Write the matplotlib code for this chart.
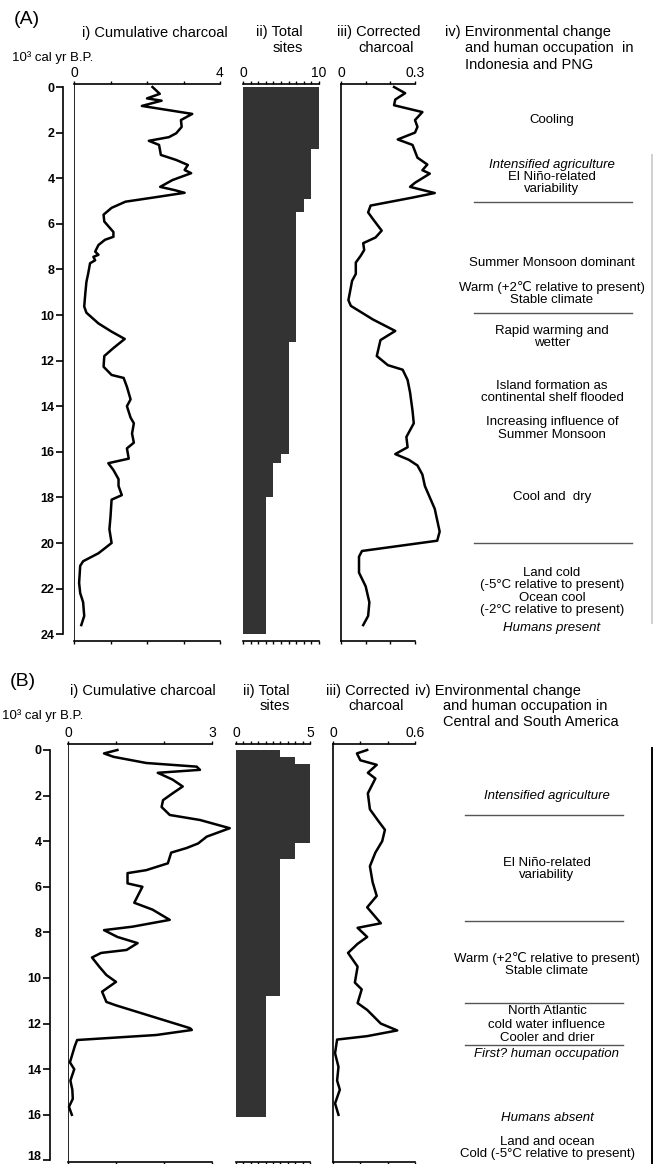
import numpy as np
import matplotlib.pyplot as plt

plt.rcParams['font.family'] = ['Liberation Sans', 'DejaVu Sans']

# ---------------- data ----------------
# (A) Indonesia and PNG, ages in 10^3 cal yr B.P.
a_char_age = [0, 0.3, 0.5, 0.6, 0.83, 1.18, 1.45, 1.75, 2.03, 2.2, 2.36, 2.54, 2.98,
              3.2, 3.42, 3.64, 3.78, 4.08, 4.38, 4.52, 4.64, 4.83, 5.03, 5.3, 5.6,
              5.9, 6.36, 6.57, 6.7, 6.93, 7.22, 7.36, 7.45, 7.6, 7.73, 8.17, 8.55,
              9.05, 9.63, 9.9, 10.37, 10.73, 11.05, 11.45, 11.8, 12.27, 12.63, 12.76,
              13.15, 13.7, 14.0, 14.5, 14.75, 15.2, 15.6, 15.85, 16.3, 16.5, 16.8,
              17.2, 17.5, 17.9, 18.1, 18.85, 19.4, 20.0, 20.45, 20.8, 21.0, 21.75,
              22.2, 22.6, 23.2, 23.6]
a_char = [2.15, 2.35, 2.0, 2.4, 1.86, 3.24, 2.93, 2.95, 2.8, 2.6, 2.05, 2.33, 2.38,
          2.8, 3.12, 3.03, 3.21, 2.7, 2.36, 2.75, 3.03, 2.25, 1.41, 1.03, 0.81,
          0.83, 1.08, 1.08, 0.85, 0.67, 0.58, 0.67, 0.53, 0.58, 0.44, 0.39, 0.34,
          0.31, 0.28, 0.34, 0.67, 1.03, 1.39, 1.08, 0.83, 0.81, 1.03, 1.36,
          1.45, 1.55, 1.45, 1.55, 1.64, 1.59, 1.64, 1.45, 1.5, 0.94, 1.08,
          1.22, 1.22, 1.31, 1.03, 1.0, 0.97, 1.03, 0.67, 0.25, 0.17, 0.14,
          0.17, 0.25, 0.28, 0.2]

a_sites_edges = [0, 2.7, 4.9, 5.5, 11.2, 16.1, 16.5, 18.0, 24]
a_sites = [10, 9, 8, 7, 6, 5, 4, 3]

a_corr_age = [0, 0.27, 0.55, 0.8, 1.1, 1.45, 1.75, 2.0, 2.3, 2.54, 3.1, 3.4, 3.65,
              3.8, 4.2, 4.38, 4.65, 4.85, 5.2, 5.5, 5.8, 6.3, 6.6, 6.85, 7.15, 7.4,
              7.7, 8.2, 8.5, 9.35, 9.6, 10.2, 10.7, 11.1, 11.8, 12.2, 12.4, 12.85,
              13.4, 14.2, 14.75, 15.35, 15.8, 16.1, 16.35, 16.6, 17.0, 17.5, 18.0,
              18.5, 19.0, 19.5, 19.9, 20.35, 20.6, 21.3, 21.9, 22.6, 23.2, 23.6]
a_corr = [0.215, 0.26, 0.22, 0.215, 0.33, 0.30, 0.31, 0.30, 0.23, 0.29, 0.31, 0.35,
          0.33, 0.36, 0.30, 0.28, 0.38, 0.29, 0.12, 0.11, 0.13, 0.165, 0.14, 0.09,
          0.094, 0.08, 0.06, 0.06, 0.045, 0.03, 0.04, 0.13, 0.22, 0.16, 0.145,
          0.19, 0.25, 0.27, 0.28, 0.29, 0.295, 0.265, 0.27, 0.22, 0.275, 0.31,
          0.33, 0.34, 0.36, 0.38, 0.39, 0.40, 0.39, 0.085, 0.073, 0.073, 0.10,
          0.115, 0.11, 0.09]

a_notes = ['Cooling', 'Intensified agriculture', 'El Niño-related', 'variability',
           'Summer Monsoon dominant', 'Warm (+2℃ relative to present)',
           'Stable climate', 'Rapid warming and', 'wetter', 'Island formation as',
           'continental shelf flooded', 'Increasing influence of', 'Summer Monsoon',
           'Cool and  dry', 'Land cold', '(-5°C relative to present)', 'Ocean cool',
           '(-2°C relative to present)', 'Humans present']
a_note_age = [1.45, 3.4, 3.95, 4.47, 7.7, 8.8, 9.35, 10.7, 11.25, 13.1, 13.65,
              14.7, 15.25, 18.0, 21.3, 21.85, 22.4, 22.95, 23.75]
a_note_italic = [False, True, False, False, False, False, False, False, False,
                 False, False, False, False, False, False, False, False, False, True]
a_bounds = [5.04, 9.9, 20.0]

# (B) Central and South America
b_char_age = [0, 0.15, 0.3, 0.57, 0.73, 0.87, 1.0, 1.3, 1.6, 1.9, 2.2, 2.5, 2.85,
              3.07, 3.43, 3.8, 4.1, 4.3, 4.5, 4.97, 5.27, 5.4, 5.85, 6.0, 6.7, 7.0,
              7.45, 7.75, 7.9, 8.2, 8.47, 8.77, 8.9, 9.1, 9.5, 9.87, 10.17, 10.6,
              11.05, 11.2, 12.2, 12.28, 12.5, 12.72, 13.0, 13.7, 14.0, 14.5, 14.9,
              15.3, 15.65, 16.0]
b_char = [1.03, 0.75, 0.95, 1.63, 2.68, 2.75, 1.87, 2.18, 2.39, 2.18, 1.98, 1.95,
          2.12, 2.75, 3.37, 2.89, 2.71, 2.47, 2.15, 2.08, 1.63, 1.24, 1.24, 1.55,
          1.38, 1.76, 2.12, 1.34, 0.75, 1.03, 1.45, 1.22, 0.69, 0.5, 0.65, 0.8,
          1.0, 0.71, 0.8, 1.0, 2.54, 2.58, 1.84, 0.19, 0.14, 0.04, 0.13, 0.05,
          0.09, 0.1, 0.02, 0.08]

b_sites_edges = [0, 0.3, 0.6, 4.1, 4.8, 10.8, 16.1]
b_sites = [3, 4, 5, 4, 3, 2]

b_corr_age = [0, 0.15, 0.45, 0.65, 1.0, 1.25, 1.9, 2.6, 3.1, 3.5, 4.0, 4.5, 5.1,
              5.8, 6.4, 6.9, 7.6, 7.8, 8.2, 8.5, 8.9, 9.5, 10.2, 10.5, 11.1, 11.4,
              12.0, 12.3, 12.55, 12.7, 13.3, 13.9, 14.5, 14.9, 15.5, 16.0]
b_corr = [0.25, 0.175, 0.20, 0.32, 0.255, 0.31, 0.255, 0.27, 0.33, 0.38, 0.36,
          0.31, 0.27, 0.29, 0.32, 0.25, 0.35, 0.18, 0.25, 0.18, 0.11, 0.18, 0.16,
          0.21, 0.18, 0.25, 0.35, 0.47, 0.25, 0.03, 0.015, 0.04, 0.03, 0.05,
          0.015, 0.04]

b_notes = ['Intensified agriculture', 'El Niño-related', 'variability',
           'Warm (+2℃ relative to present)', 'Stable climate', 'North Atlantic',
           'cold water influence', 'Cooler and drier', 'First? human occupation',
           'Humans absent', 'Land and ocean', 'Cold (-5°C relative to present)']
b_note_age = [2.0, 4.95, 5.5, 9.15, 9.7, 11.45, 12.05, 12.65, 13.35, 16.15,
              17.2, 17.73]
b_note_italic = [True, False, False, False, False, False, False, False, True,
                 True, False, False]
b_bounds = [2.85, 7.5, 11.1, 12.95]

# ---------------- layout (pixels of the 654 x 1164 image) ----------------
W, H = 654, 1164
K = 22.8  # pixels per 1000 yr
fig = plt.figure(figsize=(W / 100, H / 100), dpi=100)


def add_ax(left, right, top, bottom, y0):
    ax = fig.add_axes([left / W, 1 - bottom / H, (right - left) / W, (bottom - top) / H])
    ax.set_ylim((bottom - y0) / K, (top - y0) / K)
    return ax


def ftext(x, y, s, **kw):
    kw.setdefault('fontsize', 10.5)
    fig.text(x / W, 1 - y / H, s, va='center', **kw)


def style(ax, xmax, xlabels, minor, left=True):
    ax.set_xlim(0, xmax)
    ax.set_xticks([0, xmax])
    ax.set_xticklabels(xlabels)
    ax.set_xticks(minor, minor=True)
    ax.tick_params(axis='x', which='both', top=True, bottom=True, labeltop=True,
                   labelbottom=False, direction='out', length=2.5, width=1,
                   pad=0.5, labelsize=10)
    ax.spines['right'].set_visible(False)
    ax.spines['left'].set_visible(left)
    for s in ['top', 'bottom', 'left']:
        ax.spines[s].set_linewidth(1.2)
    ax.set_yticks([])
    ax.patch.set_alpha(0)


def panel(top, bottom, y0, x_i, x_ii, x_iii, amax, char_age, char, cmax, clab, cminor,
          edges, sites, smax, sminor, corr_age, corr, rmax, rlab, rminor,
          notes, note_age, note_it, bounds, text_cx, line_x, right_line):
    # depth axis + cumulative charcoal
    ax = add_ax(x_i[0], x_i[1], top, bottom, y0)
    style(ax, cmax, clab, cminor)
    ax.spines['left'].set_position(('outward', x_i[2]))
    ax.spines['left'].set_bounds(0, amax)
    ax.set_yticks(np.arange(0, amax + 1, 2))
    ax.tick_params(axis='y', direction='out', length=5, width=1.2, pad=1, labelsize=9)
    labs = ax.get_yticklabels()
    for lab in labs:
        lab.set_fontweight('bold')
    if bottom > H - 10:
        labs[-1].set_va('baseline')
    ax.axvline(0, color='black', lw=1.2)
    ax.plot(char, char_age, color='black', lw=1.8, clip_on=False)

    # total sites
    ax2 = add_ax(x_ii[0], x_ii[1], top, bottom, y0)
    style(ax2, smax, ['0', str(smax)], sminor, left=False)
    ax2.barh(edges[:-1], sites, height=np.diff(edges), align='edge',
             color='#333333', edgecolor='none')

    # corrected charcoal
    ax3 = add_ax(x_iii[0], x_iii[1], top, bottom, y0)
    style(ax3, rmax, rlab, rminor)
    ax3.plot(corr, corr_age, color='black', lw=1.8, clip_on=False)

    # environmental notes
    ax4 = add_ax(420, W, top, bottom, y0)
    ax4.set_xlim(420, W)
    ax4.axis('off')
    for txt, age, it in zip(notes, note_age, note_it):
        ax4.text(text_cx, age, txt, ha='center', va='center', fontsize=9.5,
                 style='italic' if it else 'normal')
    for b in bounds:
        ax4.plot(line_x, [b, b], color='#555555', lw=1)
    ax4.plot([652, 652], right_line[0], color=right_line[1], lw=1.4, clip_on=False)


panel(84, 641, 87, (74, 220, 8), (243, 319), (341, 415), 24,
      a_char_age, a_char, 4, ['0', '4'], [1, 2, 3],
      a_sites_edges, a_sites, 10, np.arange(1, 10),
      a_corr_age, a_corr, 0.3, ['0', '0.3'], [0.1, 0.2],
      a_notes, a_note_age, a_note_italic, a_bounds, 552, [474, 632],
      ([3.0, 23.5], '#d0d0d0'))

panel(744, 1162, 750, (68, 212, 13), (236, 310), (333, 415), 18,
      b_char_age, b_char, 3, ['0', '3'], [1, 2],
      b_sites_edges, b_sites, 5, np.arange(0.5, 5, 0.5),
      b_corr_age, b_corr, 0.6, ['0', '0.6'], [0.2, 0.4],
      b_notes, b_note_age, b_note_italic, b_bounds, 547, [465, 623],
      ([-0.1, 18.3], 'black'))

# headers
ftext(14, 20, '(A)', fontsize=14)
ftext(82, 33, 'i) Cumulative charcoal')
ftext(303, 32, 'ii) Total', ha='right')
ftext(303, 48, 'sites', ha='right')
ftext(12, 58, '10³ cal yr B.P.', fontsize=9.5)
ftext(337, 32, 'iii) Corrected')
ftext(358, 48, 'charcoal')
ftext(445, 32, 'iv) Environmental change')
ftext(465, 48, 'and human occupation  in')
ftext(465, 65, 'Indonesia and PNG')

ftext(10, 682, '(B)', fontsize=14)
ftext(70, 691, 'i) Cumulative charcoal')
ftext(290, 691, 'ii) Total', ha='right')
ftext(290, 706, 'sites', ha='right')
ftext(2, 716, '10³ cal yr B.P.', fontsize=9.5)
ftext(326, 691, 'iii) Corrected')
ftext(348, 706, 'charcoal')
ftext(415, 691, 'iv) Environmental change')
ftext(443, 706, 'and human occupation in')
ftext(443, 722, 'Central and South America')

fig.savefig('out.png', dpi=100)
